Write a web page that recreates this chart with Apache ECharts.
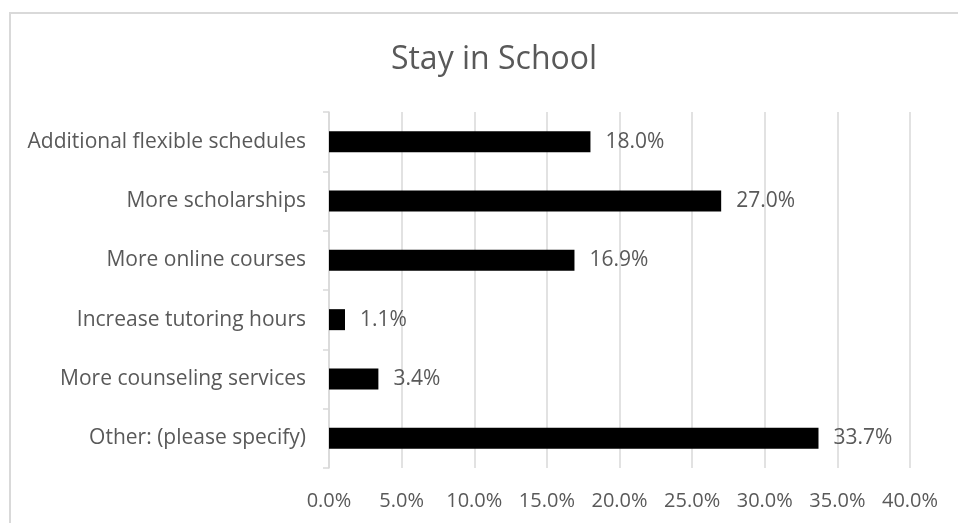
<!DOCTYPE html>
<html>
<head>
<meta charset="utf-8">
<script src="https://cdn.jsdelivr.net/npm/echarts@6/dist/echarts.min.js"></script>
<style>
  html, body { margin: 0; padding: 0; background: #fff; }
  #chart { width: 958px; height: 523px; }
</style>
</head>
<body>
<div id="chart"></div>
<script>
// Survey answers, listed top to bottom
const categories = [
  'Additional flexible schedules',
  'More scholarships',
  'More online courses',
  'Increase tutoring hours',
  'More counseling services',
  'Other: (please specify)'
];
// Share of respondents, in percent
const values = [18.0, 27.0, 16.9, 1.1, 3.4, 33.7];

const FONT = '"Open Sans", "Noto Sans", sans-serif';
const TEXT = '#595959';
const GRID = '#d9d9d9';

const chart = echarts.init(document.getElementById('chart'), null, { renderer: 'canvas' });
chart.setOption({
  animation: false,
  backgroundColor: '#fff',
  graphic: [{
    type: 'rect',
    shape: { x: 10, y: 13, width: 960, height: 530 },
    style: { fill: 'none', stroke: GRID, lineWidth: 2 },
    silent: true
  }],
  title: {
    text: 'Stay in School',
    left: 489,
    textAlign: 'center',
    top: 39,
    textStyle: { fontFamily: FONT, fontSize: 32, fontWeight: 'normal', color: TEXT }
  },
  grid: { left: 329, right: 48, top: 112, bottom: 55, containLabel: false },
  xAxis: {
    type: 'value',
    min: 0,
    max: 40,
    interval: 5,
    axisLine: { show: false },
    axisTick: { show: false },
    splitLine: { show: true, lineStyle: { color: GRID, width: 1.5 } },
    axisLabel: {
      margin: 23,
      fontFamily: FONT,
      fontSize: 20,
      color: TEXT,
      formatter: v => v.toFixed(1) + '%'
    }
  },
  yAxis: {
    type: 'category',
    data: categories,
    inverse: true,
    axisLine: { show: true, lineStyle: { color: GRID, width: 1.5 } },
    axisTick: { show: true, length: 6, lineStyle: { color: GRID, width: 1.5 } },
    axisLabel: { margin: 23, fontFamily: FONT, fontSize: 21, color: TEXT, padding: [6, 0, 0, 0] }
  },
  series: [{
    type: 'bar',
    data: values,
    barWidth: 21,
    itemStyle: { color: '#000' },
    label: {
      show: true,
      position: 'right',
      distance: 15,
      fontFamily: FONT,
      fontSize: 21,
      color: TEXT,
      padding: [6, 0, 0, 0],
      formatter: p => p.value.toFixed(1) + '%'
    }
  }]
});
</script>
</body>
</html>
